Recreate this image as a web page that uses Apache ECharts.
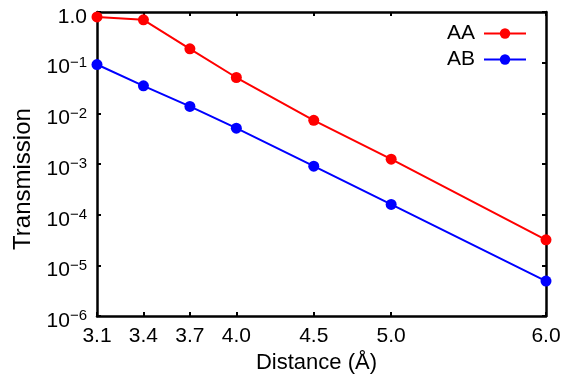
<!DOCTYPE html>
<html><head><meta charset="utf-8">
<script src="https://cdn.jsdelivr.net/npm/echarts@6/dist/echarts.min.js"></script>
<style>html,body{margin:0;padding:0;background:#fff}#c{width:572px;height:379px}</style>
</head><body><div id="c"></div>
<script>
const distances = [3.1, 3.4, 3.7, 4.0, 4.5, 5.0, 6.0];
const aaValues = [0.80, 0.70, 0.188, 0.051, 0.0073, 0.00125, 3.2e-5];
const abValues = [0.092, 0.035, 0.0137, 0.0051, 0.00091, 0.00016, 4.9e-6];
const xTicks = [3.1, 3.4, 3.7, 4.0, 4.5, 5.0, 6.0];
const yTicks = [1e-6, 1e-5, 1e-4, 1e-3, 1e-2, 1e-1, 1];

const FONT = 'Liberation Sans';
const chart = echarts.init(document.getElementById('c'), null, {renderer: 'canvas'});
const axisLine = {show: true, onZero: false, lineStyle: {color: '#000', width: 2.5}};
function yFmt(v) {
  const e = Math.round(Math.log10(v));
  if (e === 0) return '1.0';
  return '10{sup|\u2212' + (-e) + '}';
}
const xAxisBase = {
  type: 'value', min: 3.1, max: 6.0,
  axisLine: axisLine, splitLine: {show: false},
  axisTick: {show: true, inside: true, length: 4, customValues: xTicks, lineStyle: {color: '#000', width: 2}}
};
const yAxisBase = {
  type: 'log', logBase: 10, min: 1e-6, max: 1,
  axisLine: axisLine, splitLine: {show: false}, minorTick: {show: false},
  axisTick: {show: true, inside: true, length: 4, customValues: yTicks, lineStyle: {color: '#000', width: 2}}
};
function mkSeries(name, vals, color) {
  return {
    name: name, type: 'line', xAxisIndex: 0, yAxisIndex: 0,
    data: distances.map((d, i) => [d, vals[i]]),
    symbol: 'circle', symbolSize: 11,
    lineStyle: {color: color, width: 2}, itemStyle: {color: color},
    animation: false
  };
}
chart.setOption({
  animation: false,
  grid: {left: 97, right: 26, top: 12, bottom: 61, containLabel: false},
  legend: {
    top: 18, right: 40, orient: 'vertical', align: 'right',
    itemWidth: 42, itemHeight: 13, itemGap: 5,
    textStyle: {fontFamily: FONT, fontSize: 21, color: '#000', padding: [0, 4, 0, 0]},
    data: ['AA', 'AB']
  },
  xAxis: [
    Object.assign({}, xAxisBase, {
      position: 'bottom',
      name: 'Distance (\u00C5)', nameLocation: 'middle', nameGap: 35,
      nameTextStyle: {fontFamily: FONT, fontSize: 22, color: '#000', padding: [0, 10, 0, 0]},
      axisLabel: {show: true, customValues: xTicks, margin: 10, fontFamily: FONT, fontSize: 21, color: '#000',
        formatter: v => v.toFixed(1)}
    }),
    Object.assign({}, xAxisBase, {position: 'top', axisLabel: {show: false}})
  ],
  yAxis: [
    Object.assign({}, yAxisBase, {
      position: 'left',
      name: 'Transmission', nameLocation: 'middle', nameGap: 59,
      nameTextStyle: {fontFamily: FONT, fontSize: 24, color: '#000', padding: [0, 30, 0, 0]},
      axisLabel: {show: true, customValues: yTicks, margin: 10, fontFamily: FONT, fontSize: 21, color: '#000',
        padding: [10, 0, 0, 0],
        formatter: yFmt,
        rich: {sup: {fontFamily: FONT, fontSize: 15, color: '#000', verticalAlign: 'top', padding: [0, 0, 10, 0]}}}
    }),
    Object.assign({}, yAxisBase, {position: 'right', axisLabel: {show: false}})
  ],
  series: [mkSeries('AA', aaValues, '#ff0000'), mkSeries('AB', abValues, '#0000ff')]
});
</script></body></html>
